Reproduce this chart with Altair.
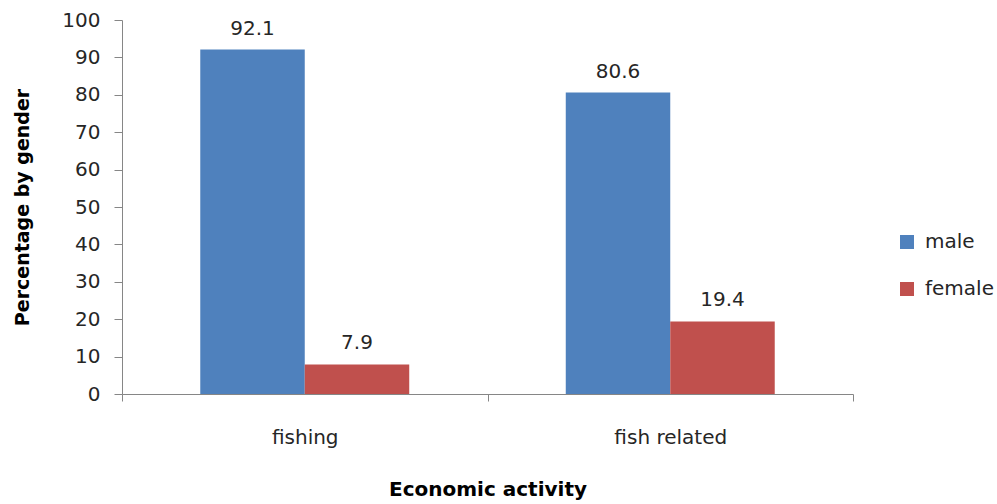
import altair as alt
import pandas as pd

categories = ["fishing", "fish related"]
genders = ["male", "female"]
male_values = [92.1, 80.6]
female_values = [7.9, 19.4]
colors = ["#4F81BD", "#C0504D"]

rows = []
for i, c in enumerate(categories):
    rows.append({"activity": c, "gender": "male", "value": male_values[i]})
    rows.append({"activity": c, "gender": "female", "value": female_values[i]})
df = pd.DataFrame(rows)

FONT = "DejaVu Sans"
TXT = "#262626"
AX = "#868686"

x = alt.X("activity:N", sort=categories,
          scale=alt.Scale(paddingInner=0, paddingOuter=0),
          axis=alt.Axis(title="Economic  activity", labelAngle=0, tickBand="extent",
                        labelFontSize=20, labelFont=FONT, labelColor=TXT, labelPadding=26,
                        titleFontSize=20, titleFont=FONT, titleFontWeight="bold", titleColor="#000000",
                        titlePadding=32, domainColor=AX, tickColor=AX, tickSize=7))
xo = alt.XOffset("gender:N", sort=genders,
                 scale=alt.Scale(paddingInner=0, paddingOuter=0.749))
y = alt.Y("value:Q", scale=alt.Scale(domain=[0, 100]),
          axis=alt.Axis(title="Percentage by  gender", values=list(range(0, 101, 10)),
                        labelOverlap=False, grid=False,
                        labelFontSize=20, labelFont=FONT, labelColor=TXT, labelPadding=14,
                        titleFontSize=19, titleFont=FONT, titleFontWeight="bold", titleColor="#000000",
                        titlePadding=29, domainColor=AX, tickColor=AX, tickSize=8))
color = alt.Color("gender:N", sort=genders,
                  scale=alt.Scale(domain=genders, range=colors),
                  legend=alt.Legend(title=None, orient="none", legendX=775, legendY=212,
                                    padding=0, symbolType="square", symbolSize=196,
                                    symbolStrokeWidth=0,
                                    labelFontSize=20, labelFont=FONT, labelColor=TXT,
                                    rowPadding=27, labelOffset=8))

base = alt.Chart(df)
bars = base.mark_bar().encode(x=x, xOffset=xo, y=y, color=color)
labels = base.mark_text(dy=-11, baseline="bottom", fontSize=20, font=FONT, color=TXT).encode(
    x=x, xOffset=xo, y=y, text=alt.Text("value:Q", format=".1f"))

chart = (bars + labels).properties(
    width=731, height=374,
    autosize=alt.AutoSizeParams(type="none"),
    padding={"left": 122, "top": 20, "right": 144, "bottom": 110},
).configure(background="white").configure_view(stroke=None)

chart.save("out.html", embed_options={"renderer": "svg", "actions": False})
